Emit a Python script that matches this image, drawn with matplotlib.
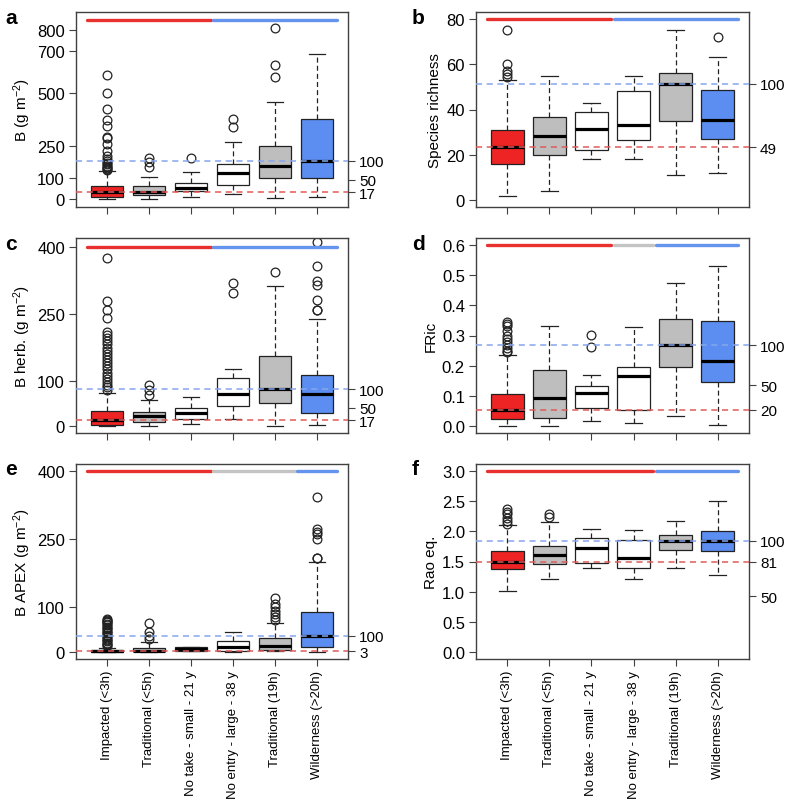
import matplotlib
matplotlib.use("Agg")
import matplotlib.pyplot as plt

plt.rcParams['font.family'] = ['Liberation Sans', 'DejaVu Sans']
plt.rcParams['mathtext.default'] = 'regular'

categories = ["Impacted (<3h)", "Traditional (<5h)", "No take - small - 21 y",
              "No entry - large - 38 y", "Traditional (19h)", "Wilderness (>20h)"]
box_fill = ["red", "gray", "white", "white", "gray", "blue"]

# each box: whislo, q1, med, q3, whishi, fliers
a_boxes = [
    (0, 11, 31, 60, 132, [588, 500, 427, 374, 347, 295, 289, 259, 229, 205, 189, 180, 172, 165, 158, 151, 145, 140, 136]),
    (0, 19, 31, 60, 106, [194, 177, 153]),
    (11, 36, 54, 77, 128, [194]),
    (24, 68, 123, 167, 271, [379, 342]),
    (3, 99, 158, 251, 457, [809, 636, 579]),
    (8, 99, 181, 379, 685, []),
]
b_boxes = [
    (1.8, 15.9, 23.2, 30.9, 53.1, [75.1, 60.1, 57.2, 55.8, 54.3]),
    (3.9, 19.9, 28.1, 36.6, 55, []),
    (18, 21.9, 31.2, 39, 43.1, []),
    (18, 26.5, 33, 48.2, 55, []),
    (11.2, 34.9, 51.3, 56.2, 75.1, []),
    (12, 27.1, 35.2, 48.8, 63.2, [72.1]),
]
c_boxes = [
    (0, 3, 12.6, 33.5, 74, [375, 280, 258, 241, 210, 203, 196, 189, 182, 175, 168, 161, 154, 147, 140,
                           133, 126, 119, 112, 105, 98, 92, 86, 80]),
    (0, 8.2, 21.6, 30.5, 57, [91, 80, 68]),
    (5, 15, 29, 40, 64, []),
    (15, 44.6, 72, 107, 126.5, [320, 298]),
    (0, 50.6, 82, 155.5, 312, [344]),
    (1.5, 29, 70.7, 113, 239, [411, 357, 324, 315, 282, 260, 258]),
]
d_boxes = [
    (0, 0.022, 0.054, 0.107, 0.235, [0.346, 0.338, 0.33, 0.315, 0.30, 0.29, 0.28, 0.27, 0.26, 0.25, 0.245]),
    (0, 0.026, 0.091, 0.184, 0.33, []),
    (0.016, 0.059, 0.108, 0.133, 0.168, [0.302, 0.261]),
    (0.009, 0.051, 0.164, 0.194, 0.329, []),
    (0.031, 0.195, 0.268, 0.356, 0.473, []),
    (0.004, 0.146, 0.216, 0.347, 0.53, []),
]
e_boxes = [
    (0, 0, 1.5, 5, 9, [73, 71, 69, 67, 65, 62, 59, 56, 53, 50, 47, 44, 41, 38, 35, 32, 29, 26, 23, 20, 17, 14, 12]),
    (0, 0.7, 2, 8, 21, [64, 43, 34, 28]),
    (1.5, 2.5, 6, 9.5, 10.5, []),
    (0, 0.7, 9.7, 24.5, 44.6, []),
    (1.5, 5, 13.4, 30.5, 64, [120, 106, 99, 91, 84, 77, 71]),
    (0, 11, 35.7, 87.7, 198, [343, 271, 266, 260, 250, 208, 207]),
]
f_boxes = [
    (1.014, 1.377, 1.494, 1.672, 2.107, [2.37, 2.33, 2.285, 2.23, 2.174, 2.13]),
    (1.215, 1.455, 1.6, 1.756, 2.163, [2.297, 2.24]),
    (1.388, 1.483, 1.722, 1.884, 2.046, []),
    (1.215, 1.388, 1.566, 1.856, 2.029, []),
    (1.4, 1.689, 1.845, 1.945, 2.168, []),
    (1.271, 1.678, 1.84, 2.012, 2.503, []),
]

# reference (blue dashed = 100%) and impacted (red dashed) levels
ref_levels = {"a": 181, "b": 51.3, "c": 82, "d": 0.268, "e": 35.5, "f": 1.845}
base_levels = {"a": 31, "b": 23.2, "c": 12.6, "d": 0.054, "e": 1.2, "f": 1.494}
right_pcts = {"a": [100, 50, 17], "b": [100, 49], "c": [100, 50, 17],
              "d": [100, 50, 20], "e": [100, 3], "f": [100, 81, 50]}
base_pct = {"a": 17, "b": 49, "c": 17, "d": 20, "e": 3, "f": 81}

groups = {"a": "rrrbbb", "b": "rrrbbb", "c": "rrrbbb",
          "d": "rrrgbb", "e": "rrrggb", "f": "rrrrbb"}

yticks = {"a": [0, 100, 250, 500, 700, 800], "b": [0, 20, 40, 60, 80],
          "c": [0, 100, 250, 400], "d": [0.0, 0.1, 0.2, 0.3, 0.4, 0.5, 0.6],
          "e": [0, 100, 250, 400], "f": [0.0, 0.5, 1.0, 1.5, 2.0, 2.5, 3.0]}
ytick_fmt = {"a": "{:.0f}", "b": "{:.0f}", "c": "{:.0f}", "d": "{:.1f}", "e": "{:.0f}", "f": "{:.1f}"}
ylabels = {"a": "B (g m$^{-2}$)", "b": "Species richness", "c": "B herb. (g m$^{-2}$)",
           "d": "FRic", "e": "B APEX (g m$^{-2}$)", "f": "Rao eq."}
boxes = {"a": a_boxes, "b": b_boxes, "c": c_boxes, "d": d_boxes, "e": e_boxes, "f": f_boxes}

# layout / style (not data)
ylims = {"a": (-38, 885), "b": (-3.2, 83.2), "c": (-16, 420), "d": (-0.024, 0.624),
         "e": (-16, 416), "f": (-0.12, 3.12)}
bar_y = {"a": 848, "b": 80, "c": 400, "d": 0.6, "e": 400, "f": 3.0}
fill_colors = {"red": "#EE2424", "gray": "#BEBEBE", "white": "white", "blue": "#5B8EF0"}
bar_colors = {"r": "#E8302F", "g": "#C4C4C4", "b": "#6494EE"}
red_dash = "#E05A5A"
blue_dash = "#86A6EC"
frame_col = "#404040"

W, H = 788, 804
fig = plt.figure(figsize=(W / 100, H / 100), dpi=100)
col_left = [76, 476]
col_w = [272, 273]
row_top = [13, 239, 465]
row_h = 195
order = [["a", "b"], ["c", "d"], ["e", "f"]]
FS_L = 12
FS_R = 11
FS_LAB = 11

for r in range(3):
    for c in range(2):
        key = order[r][c]
        x0 = col_left[c] / W
        y0 = 1 - (row_top[r] + row_h) / H
        ax = fig.add_axes([x0, y0, col_w[c] / W, row_h / H])
        stats = []
        for (lo, q1, med, q3, hi, fl) in boxes[key]:
            stats.append(dict(whislo=lo, q1=q1, med=med, q3=q3, whishi=hi, fliers=fl))
        bp = ax.bxp(stats, positions=range(1, 7), widths=0.78, patch_artist=True,
                    showfliers=True,
                    boxprops=dict(edgecolor="#222222", linewidth=0.9),
                    medianprops=dict(color="black", linewidth=2.3, solid_capstyle="butt"),
                    whiskerprops=dict(color="#222222", linewidth=0.9, linestyle=(0, (4, 2.5))),
                    capprops=dict(color="#222222", linewidth=0.9),
                    flierprops=dict(marker="o", markersize=6.3, markerfacecolor="none",
                                    markeredgecolor="#222222", markeredgewidth=0.9),
                    capwidths=0.4, manage_ticks=False)
        for patch, fc in zip(bp["boxes"], box_fill):
            patch.set_facecolor(fill_colors[fc])
        ax.set_xlim(0.26, 6.74)
        ax.set_ylim(*ylims[key])
        # reference lines
        ax.axhline(ref_levels[key], color=blue_dash, lw=1.1, ls=(0, (4, 3)), zorder=5)
        ax.axhline(base_levels[key], color=red_dash, lw=1.1, ls=(0, (4, 3)), zorder=5)
        # significance group bars
        g = groups[key]
        start = 0
        for i in range(1, 7):
            if i == 6 or g[i] != g[start]:
                ax.plot([start + 1 - 0.5 + 0.03, i + 0.5 - 0.03], [bar_y[key]] * 2,
                        color=bar_colors[g[start]], lw=2.4, solid_capstyle="round", zorder=6)
                start = i
        # axes style
        for s in ax.spines.values():
            s.set_color(frame_col)
            s.set_linewidth(1.0)
        ax.set_yticks(yticks[key])
        ax.set_yticklabels([ytick_fmt[key].format(v) for v in yticks[key]], fontsize=FS_L)
        ax.set_xticks(range(1, 7))
        if r == 2:
            ax.set_xticklabels(categories, rotation=90, fontsize=9.5, va="top", ha="center")
        else:
            ax.set_xticklabels([])
        ax.tick_params(direction="out", length=5, width=0.8, color=frame_col, pad=3)
        ax.set_ylabel(ylabels[key], fontsize=FS_LAB, labelpad=3)
        # right axis
        ax2 = ax.twinx()
        ax2.set_ylim(*ylims[key])
        pos = []
        for p in right_pcts[key]:
            if p == 100:
                pos.append(ref_levels[key])
            elif p == base_pct[key]:
                pos.append(base_levels[key])
            else:
                pos.append(ref_levels[key] * p / 100.0)
        ax2.set_yticks(pos)
        ax2.set_yticklabels([str(p) for p in right_pcts[key]], fontsize=FS_R)
        ax2.tick_params(direction="out", length=5, width=0.8, color=frame_col, pad=3)
        for s in ax2.spines.values():
            s.set_visible(False)
        # panel letter
        lx = [5, 412][c] / W
        ly = 1 - (row_top[r] + 5) / H
        fig.text(lx, ly, key, fontsize=15, fontweight="bold", ha="left", va="center")

fig.savefig("out.png", dpi=100)
